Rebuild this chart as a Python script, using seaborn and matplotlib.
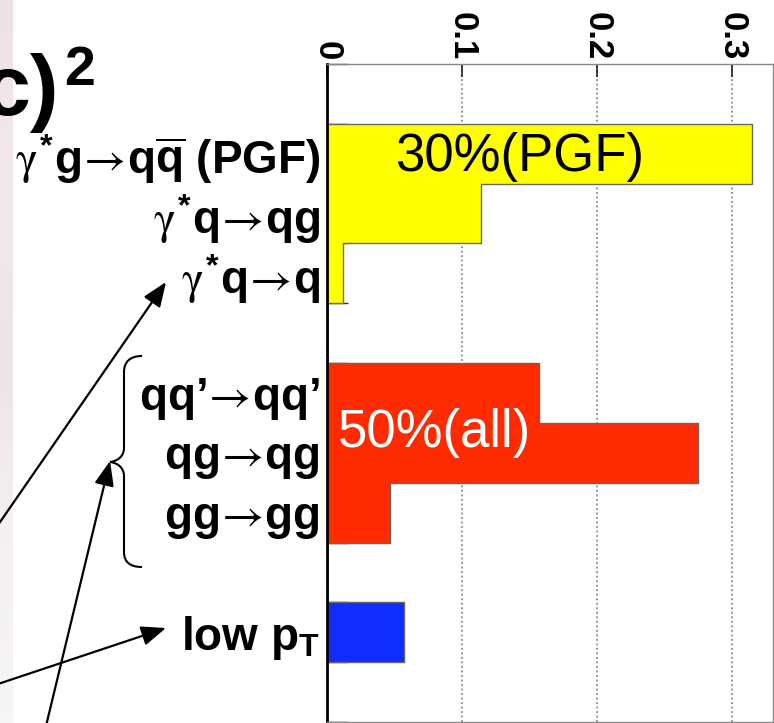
import numpy as np
import pandas as pd
import matplotlib
matplotlib.use("Agg")
import matplotlib.pyplot as plt
from matplotlib.path import Path
from matplotlib.patches import PathPatch
from matplotlib.colors import LinearSegmentedColormap
import seaborn as sns

# Subprocess fractions (one histogram bin per process, empty bins between groups)
ARROW = r"$\!\mathsf{\rightarrow}\!$"
processes = [r"$\gamma^{*}$g" + ARROW + r"q$\overline{\mathbf{q}}$ (PGF)",
             r"$\gamma^{*}$q" + ARROW + "qg",
             r"$\gamma^{*}$q" + ARROW + "q",
             "qq’" + ARROW + "qq’",
             "qg" + ARROW + "qg",
             "gg" + ARROW + "gg",
             r"low p$_{\mathbf{T}}$"]
bin_index = [1, 2, 3, 5, 6, 7, 9]
fractions = [0.315, 0.114, 0.012, 0.157, 0.275, 0.047, 0.057]
groups = ["direct", "direct", "direct", "resolved", "resolved", "resolved", "lowpt"]
n_bins = 11

x_ticks = [0.0, 0.1, 0.2, 0.3]
x_tick_labels = ["0", "0.1", "0.2", "0.3"]

group_colors = {"direct": "#ffff00", "resolved": "#ff2a00", "lowpt": "#0f2dff"}

df = pd.DataFrame({"bin": bin_index, "fraction": fractions, "group": groups})

sns.set_theme(style="white")
plt.rcParams["font.family"] = ["Liberation Sans", "DejaVu Sans"]
plt.rcParams["mathtext.fontset"] = "custom"
plt.rcParams["mathtext.rm"] = "Liberation Sans:bold"
plt.rcParams["mathtext.bf"] = "Liberation Sans:bold"
plt.rcParams["mathtext.it"] = "STIXGeneral"
plt.rcParams["mathtext.sf"] = "STIXGeneral"
for key in ["text.color", "axes.labelcolor", "xtick.color", "ytick.color",
            "xtick.labelcolor", "ytick.labelcolor"]:
    plt.rcParams[key] = "black"

W, H = 774, 723
fig = plt.figure(figsize=(W / 100, H / 100), dpi=100)
fig.patch.set_facecolor("white")

# faint slide-background strip on the far left
strip = fig.add_axes([0, 0, 13 / W, 1])
strip.axis("off")
cmap = LinearSegmentedColormap.from_list(
    "strip", ["#efe2e6", "#f3e8ea", "#efe4e7", "#f5f0f1", "#f7f5f5"])
strip.imshow(np.linspace(0, 1, 64)[:, None], aspect="auto", cmap=cmap,
             extent=[0, 1, 0, 1], origin="upper")

ax = fig.add_axes([327 / W, 1 - 722 / H, 446 / W, 658 / H])

sns.histplot(data=df, y="bin", weights="fraction", hue="group",
             discrete=True, element="step", fill=True, alpha=1,
             palette=group_colors, hue_order=["direct", "resolved", "lowpt"],
             edgecolor="#666666", linewidth=1.0, legend=False, ax=ax)

ax.set_xlim(0, 0.3306)
ax.set_ylim(n_bins - 0.5, -0.5)
ax.set_xlabel("")
ax.set_ylabel("")

# dotted vertical grid under the bars
for xv in x_ticks[1:]:
    ax.axvline(xv, color="#8a8a8a", linestyle=(0, (1, 1.5)), lw=1.3, zorder=0.5)

ax.xaxis.tick_top()
ax.set_xticks(x_ticks)
ax.set_xticklabels(x_tick_labels, rotation=-90, fontsize=25, fontweight="bold",
                   color="black")
ax.tick_params(axis="x", direction="in", length=9, width=1.2, color="#222222",
               pad=3, top=True, bottom=False)

ax.set_yticks(bin_index)
ax.set_yticklabels(processes, fontsize=33, fontweight="bold", color="black")
ax.set_yticks(np.arange(-0.5, n_bins, 1.0), minor=True)
ax.tick_params(axis="y", which="major", length=0, pad=5)
ax.tick_params(axis="y", which="minor", direction="in", length=15, width=1,
               color="#333333", left=True)

for side in ["top", "right", "bottom"]:
    ax.spines[side].set_color("#888888")
    ax.spines[side].set_linewidth(1.0)
ax.spines["left"].set_color("black")
ax.spines["left"].set_linewidth(2.0)

ax.text(0.0504, 1.06, "30%(PGF)", fontsize=38, color="black",
        ha="left", va="center")
ax.text(0.008, 5.67, "50%(all)", fontsize=38, color="white",
        ha="left", va="center")

# overlay in pixel coordinates for the brace, arrows and axis-title remnant
ov = fig.add_axes([0, 0, 1, 1], facecolor="none")
ov.set_xlim(0, W)
ov.set_ylim(H, 0)
ov.axis("off")

brace = Path([(142, 356), (130, 356), (124, 362), (124, 372),
              (124, 448),
              (124, 456), (118, 461), (110, 462),
              (118, 463), (124, 468), (124, 476),
              (124, 552),
              (124, 562), (130, 567), (142, 567)],
             [Path.MOVETO, Path.CURVE4, Path.CURVE4, Path.CURVE4,
              Path.LINETO,
              Path.CURVE4, Path.CURVE4, Path.CURVE4,
              Path.CURVE4, Path.CURVE4, Path.CURVE4,
              Path.LINETO,
              Path.CURVE4, Path.CURVE4, Path.CURVE4])
ov.add_patch(PathPatch(brace, fill=False, lw=1.5, edgecolor="black"))

arrow_style = dict(arrowstyle="-|>,head_length=0.75,head_width=0.3",
                   mutation_scale=20, lw=1.6, color="black",
                   shrinkA=0, shrinkB=0)
for start, tip in [((-2, 525), (166, 282)),
                   ((46, 726), (110, 461)),
                   ((-2, 684), (166, 628))]:
    ov.annotate("", xy=tip, xytext=start, xycoords="data", textcoords="data",
                arrowprops=arrow_style)

ov.text(59, 115, "c)", fontsize=62, fontweight="bold", ha="right",
        va="baseline", color="black")
ov.text(64, 85, "2", fontsize=40, fontweight="bold", ha="left",
        va="baseline", color="black")

fig.savefig("out.png", dpi=100)
